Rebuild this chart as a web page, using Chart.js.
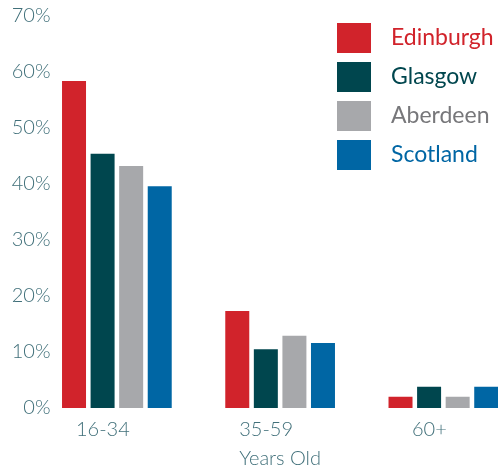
<!DOCTYPE html>
<html>
<head>
<meta charset="utf-8">
<script src="https://cdn.jsdelivr.net/npm/chart.js@4/dist/chart.umd.min.js"></script>
<style>
html,body{margin:0;padding:0;background:#fff;overflow:hidden;}
#wrap{position:relative;width:525px;height:470px;}
</style>
</head>
<body>
<div id="wrap"><canvas id="c"></canvas></div>
<script>
const categories = ['16-34', '35-59', '60+'];
const seriesNames = ['Edinburgh', 'Glasgow', 'Aberdeen', 'Scotland'];
const edinburgh = [58.4, 17.3, 2.0];
const glasgow = [45.4, 10.5, 3.8];
const aberdeen = [43.2, 12.9, 2.0];
const scotland = [39.6, 11.6, 3.8];
const yTickLabels = ['0%', '10%', '20%', '30%', '40%', '50%', '60%', '70%'];
const axisTitle = 'Years Old';

const barColors = ['#d1232b', '#00464e', '#a7a8ab', '#0066a4'];
const textColors = ['#d1232b', '#00464e', '#77777a', '#0066a4'];
const tickColor = '#41707a';
const FONT = 'Lato, "Open Sans", sans-serif';

const values = [edinburgh, glasgow, aberdeen, scotland];

const legendPlugin = {
  id: 'customLegend',
  afterDraw(chart) {
    const ctx = chart.ctx;
    ctx.save();
    chart.data.datasets.forEach((ds, i) => {
      const y = 23 + i * 39;
      ctx.fillStyle = ds.backgroundColor;
      ctx.fillRect(337, y, 34, 30);
      ctx.fillStyle = ds.legendTextColor;
      ctx.font = '400 23px ' + FONT;
      ctx.textBaseline = 'middle';
      ctx.textAlign = 'left';
      ctx.fillText(ds.label, 391, y + 15);
    });
    ctx.restore();
  }
};

new Chart(document.getElementById('c'), {
  type: 'bar',
  data: {
    labels: categories,
    datasets: seriesNames.map((name, i) => ({
      label: name,
      data: values[i],
      backgroundColor: barColors[i],
      legendTextColor: textColors[i],
      borderWidth: 0,
      barPercentage: 0.84,
      categoryPercentage: 0.70
    }))
  },
  options: {
    responsive: true,
    maintainAspectRatio: false,
    animation: false,
    layout: { padding: { top: 16, right: 0, bottom: 0, left: 0 } },
    plugins: {
      legend: { display: false },
      tooltip: { enabled: false }
    },
    scales: {
      x: {
        grid: { display: false, drawTicks: false },
        border: { display: false },
        ticks: {
          color: tickColor,
          font: { family: FONT, size: 20, weight: '300' },
          padding: 10,
          labelOffset: -14,
          maxRotation: 0
        },
        title: {
          display: true,
          text: axisTitle,
          color: tickColor,
          font: { family: FONT, size: 20, weight: '300', lineHeight: 1.1 },
          padding: { top: 0, bottom: 0 }
        },
        afterFit(scale) { scale.height = 62; }
      },
      y: {
        min: 0,
        max: 70,
        grid: { display: false, drawTicks: false },
        border: { display: false },
        ticks: {
          stepSize: 10,
          mirror: true,
          crossAlign: 'far',
          color: tickColor,
          font: { family: FONT, size: 20, weight: '300' },
          padding: -23.5,
          callback: function (value, index) { return yTickLabels[index]; }
        },
        afterFit(scale) { scale.width = 35.25; }
      }
    }
  },
  plugins: [legendPlugin]
});
</script>
</body>
</html>
